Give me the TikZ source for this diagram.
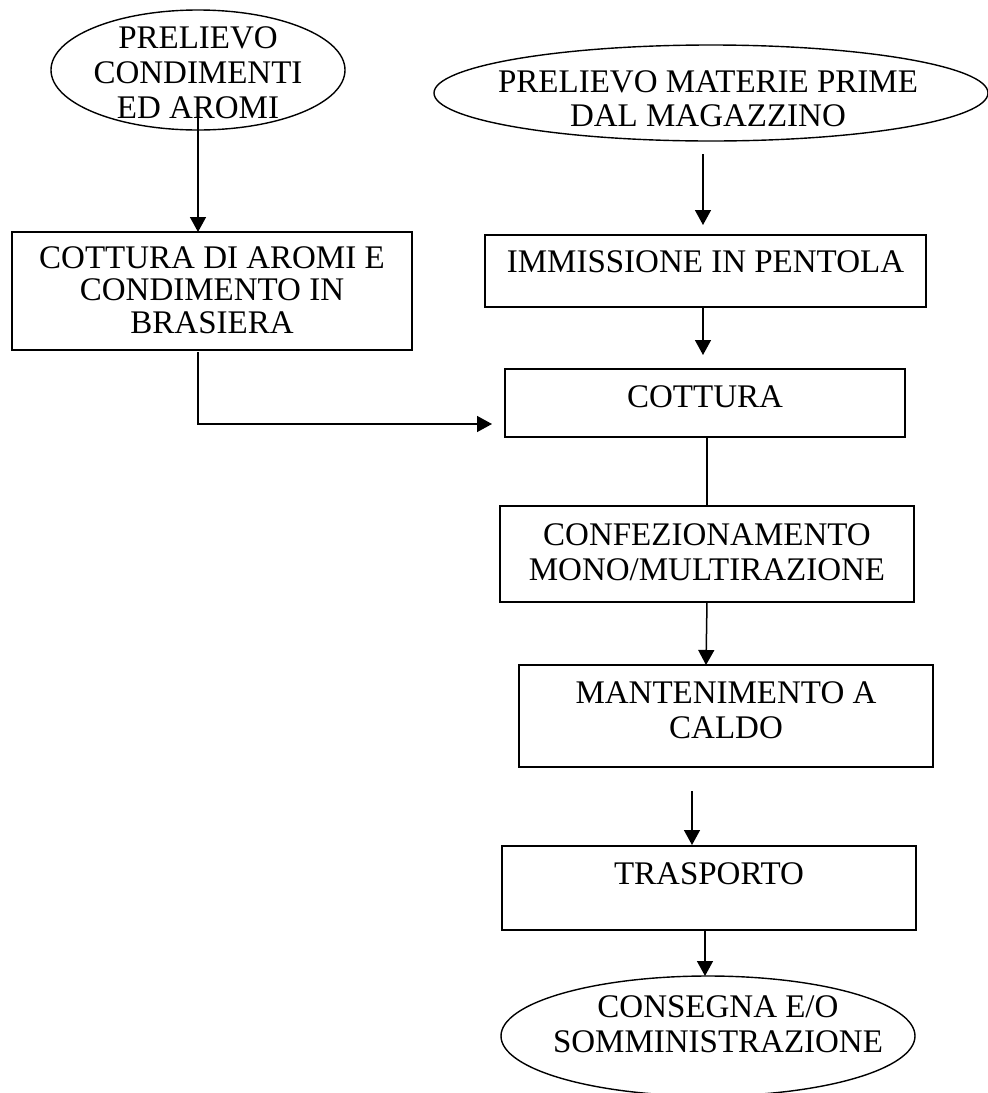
\documentclass[tikz,border=0pt]{standalone}
\usepackage{fontspec}
\setmainfont{Liberation Serif}
\usetikzlibrary{arrows.meta,shapes.geometric}
% #1 horizontal shift, #2 raise of first baseline above node centre, #3 lines
\newcommand{\txt}[3]{\raisebox{#2}[0pt][0pt]{\makebox[0pt]{\kern#1\relax\begin{tabular}[t]{@{}c@{}}#3\end{tabular}\kern-#1\relax}}}
\tikzset{
  every node/.style={font=\fontsize{33}{35}\selectfont, inner sep=0pt, outer sep=0pt},
  procbox/.style={draw, line width=1.6pt, rectangle},
  termell/.style={draw, line width=1.4pt, ellipse},
  arr/.style={line width=1.5pt, -{Triangle[width=16pt,length=15pt]}},
  conn/.style={line width=1.5pt}
}
\begin{document}
\begin{tikzpicture}[x=1pt,y=-1pt]
\useasboundingbox (0,0) rectangle (988,1093);
% nodes
\node[termell, minimum width=294pt, minimum height=120pt] (e1) at (198,70)
  {\txt{0pt}{22pt}{PRELIEVO\\CONDIMENTI\\ED AROMI}};
\node[procbox, minimum width=400pt, minimum height=118pt] (b1) at (212,291)
  {\txt{0pt}{23pt}{COTTURA DI AROMI E\\[-2.5pt]CONDIMENTO IN\\[-2.5pt]BRASIERA}};
\node[termell, minimum width=554pt, minimum height=96pt] (e2) at (711,93)
  {\txt{-3pt}{1pt}{PRELIEVO MATERIE PRIME\\[-1pt]DAL MAGAZZINO}};
\node[procbox, minimum width=441pt, minimum height=72pt] (imm) at (705.5,271)
  {\txt{0pt}{-1pt}{IMMISSIONE IN PENTOLA}};
\node[procbox, minimum width=400pt, minimum height=68pt] (cot) at (705,403)
  {\txt{0pt}{-4pt}{COTTURA}};
\node[procbox, minimum width=414pt, minimum height=96pt] (conf) at (707,554)
  {\txt{0pt}{9pt}{CONFEZIONAMENTO\\MONO/MULTIRAZIONE}};
\node[procbox, minimum width=414pt, minimum height=102pt] (mant) at (726,716)
  {\txt{0pt}{13pt}{MANTENIMENTO A\\CALDO}};
\node[procbox, minimum width=414pt, minimum height=84pt] (tra) at (709,888)
  {\txt{0pt}{4pt}{TRASPORTO}};
\node[termell, minimum width=414pt, minimum height=120pt] (e3) at (708,1036)
  {\txt{10pt}{19pt}{CONSEGNA E/O\\SOMMINISTRAZIONE}};
% connectors
\draw[arr] ([yshift=-48pt]e1.center) -- (e1.center |- b1.north);
\draw[arr] ([xshift=-8pt,yshift=-13pt]e2.south) -- ([xshift=-2.5pt,yshift=10pt]imm.north);
\draw[arr] ([xshift=-2.5pt]imm.south) -- ([xshift=-2pt,yshift=14pt]cot.north);
\draw[arr] ([xshift=-14pt,yshift=-2pt]b1.south) |- ([xshift=-13pt,yshift=-21pt]cot.west);
\draw[conn] ([xshift=2pt]cot.south) -- (conf.north);
\draw[arr] (conf.south) -- ([xshift=-20pt]mant.north);
\draw[arr] ([xshift=-34pt,yshift=-24pt]mant.south) -- ([xshift=-17pt,yshift=1pt]tra.north);
\draw[arr] ([xshift=-4pt]tra.south) -- ([xshift=-3pt]e3.north);
\end{tikzpicture}
\end{document}
